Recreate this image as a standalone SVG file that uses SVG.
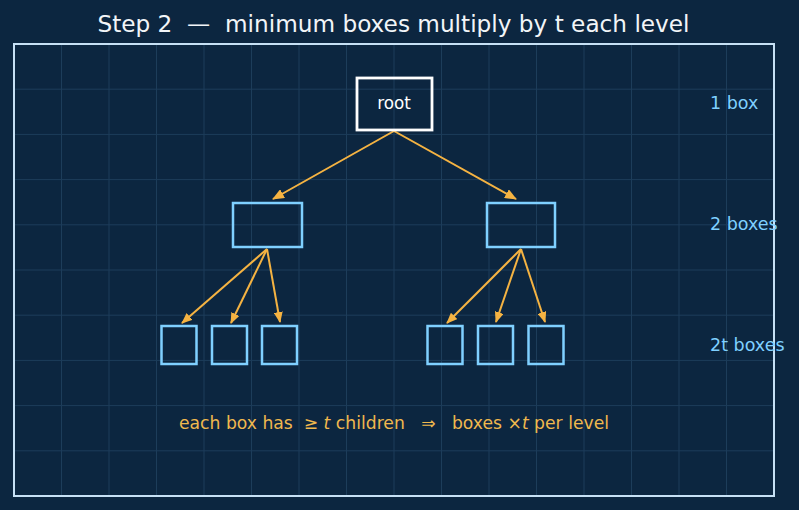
<svg xmlns="http://www.w3.org/2000/svg" width="799" height="510" viewBox="0 0 799 510">
<style>
.grid line{stroke:#1d3d5a;stroke-width:1}
.lvl2{fill:none;stroke:#7fd0ff;stroke-width:2.5}
.leaf{fill:none;stroke:#7fd0ff;stroke-width:2.5}
.edge{stroke:#f5b342;stroke-width:2;fill:none}
.side{font-family:"DejaVu Sans",sans-serif;font-size:17.5px;fill:#7fd0ff}
</style>
<defs>
<marker id="ah" viewBox="0 0 12 10" refX="11" refY="5" markerWidth="12" markerHeight="10" orient="auto" markerUnits="userSpaceOnUse">
<path d="M0,0 L12,5 L0,10 z" fill="#f5b342"/>
</marker>
<marker id="ah2" viewBox="0 0 11 9" refX="10" refY="4.5" markerWidth="11" markerHeight="9" orient="auto" markerUnits="userSpaceOnUse">
<path d="M0,0 L11,4.5 L0,9 z" fill="#f5b342"/>
</marker>
</defs>
<rect x="0" y="0" width="799" height="510" fill="#0c2640"/>
<g class="grid">
<line x1="61.5" y1="44" x2="61.5" y2="496"/><line x1="109" y1="44" x2="109" y2="496"/><line x1="156.5" y1="44" x2="156.5" y2="496"/><line x1="204" y1="44" x2="204" y2="496"/><line x1="251.5" y1="44" x2="251.5" y2="496"/><line x1="299" y1="44" x2="299" y2="496"/><line x1="346.5" y1="44" x2="346.5" y2="496"/><line x1="394" y1="44" x2="394" y2="496"/><line x1="441.5" y1="44" x2="441.5" y2="496"/><line x1="489" y1="44" x2="489" y2="496"/><line x1="536.5" y1="44" x2="536.5" y2="496"/><line x1="584" y1="44" x2="584" y2="496"/><line x1="631.5" y1="44" x2="631.5" y2="496"/><line x1="679" y1="44" x2="679" y2="496"/><line x1="726.5" y1="44" x2="726.5" y2="496"/>
<line x1="14" y1="89.2" x2="774" y2="89.2"/><line x1="14" y1="134.4" x2="774" y2="134.4"/><line x1="14" y1="179.6" x2="774" y2="179.6"/><line x1="14" y1="224.8" x2="774" y2="224.8"/><line x1="14" y1="270" x2="774" y2="270"/><line x1="14" y1="315.2" x2="774" y2="315.2"/><line x1="14" y1="360.4" x2="774" y2="360.4"/><line x1="14" y1="405.6" x2="774" y2="405.6"/><line x1="14" y1="450.8" x2="774" y2="450.8"/>
</g>
<rect x="14" y="44" width="760" height="452" fill="none" stroke="#c6e0f5" stroke-width="2"/>
<text x="393.5" y="32" text-anchor="middle" font-family="DejaVu Sans, sans-serif" font-size="23.2" fill="#f2f5f8" xml:space="preserve">Step 2  —  minimum boxes multiply by t each level</text>
<g id="connectors">
<line class="edge" x1="394" y1="131" x2="273" y2="199" marker-end="url(#ah)"/>
<line class="edge" x1="394" y1="131" x2="516" y2="199" marker-end="url(#ah)"/>
<line class="edge" x1="267" y1="249" x2="182" y2="323" stroke-width="1.6" marker-end="url(#ah2)"/>
<line class="edge" x1="267" y1="249" x2="231" y2="323" stroke-width="1.6" marker-end="url(#ah2)"/>
<line class="edge" x1="267" y1="249" x2="280" y2="322" stroke-width="1.6" marker-end="url(#ah2)"/>
<line class="edge" x1="521" y1="249" x2="447" y2="323" stroke-width="1.6" marker-end="url(#ah2)"/>
<line class="edge" x1="521" y1="249" x2="496" y2="322" stroke-width="1.6" marker-end="url(#ah2)"/>
<line class="edge" x1="521" y1="249" x2="545" y2="322" stroke-width="1.6" marker-end="url(#ah2)"/>
</g>
<g id="root">
<rect x="357" y="78" width="75" height="52" fill="none" stroke="#ffffff" stroke-width="2.8"/>
<text x="394" y="108.5" text-anchor="middle" font-family="DejaVu Sans, sans-serif" font-size="16.8" fill="#ffffff">root</text>
</g>
<g id="n2a"><rect class="lvl2" x="233" y="203" width="69" height="44"/></g>
<g id="n2b"><rect class="lvl2" x="487" y="203" width="68" height="44"/></g>
<g id="l1"><rect class="leaf" x="161.5" y="326" width="35" height="38"/></g>
<g id="l2"><rect class="leaf" x="212" y="326" width="35" height="38"/></g>
<g id="l3"><rect class="leaf" x="262" y="326" width="35" height="38"/></g>
<g id="l4"><rect class="leaf" x="427.5" y="326" width="35" height="38"/></g>
<g id="l5"><rect class="leaf" x="478" y="326" width="35" height="38"/></g>
<g id="l6"><rect class="leaf" x="528.5" y="326" width="35" height="38"/></g>
<text class="side" x="710" y="109">1 box</text>
<text class="side" x="710" y="230">2 boxes</text>
<text class="side" x="710" y="351">2t boxes</text>
<text x="394" y="429" text-anchor="middle" font-family="DejaVu Sans, sans-serif" font-size="17.2" fill="#f0b84e" xml:space="preserve">each box has  ≥ <tspan font-style="italic">t</tspan> children   ⇒   boxes ×<tspan font-style="italic">t</tspan> per level</text>
</svg>
